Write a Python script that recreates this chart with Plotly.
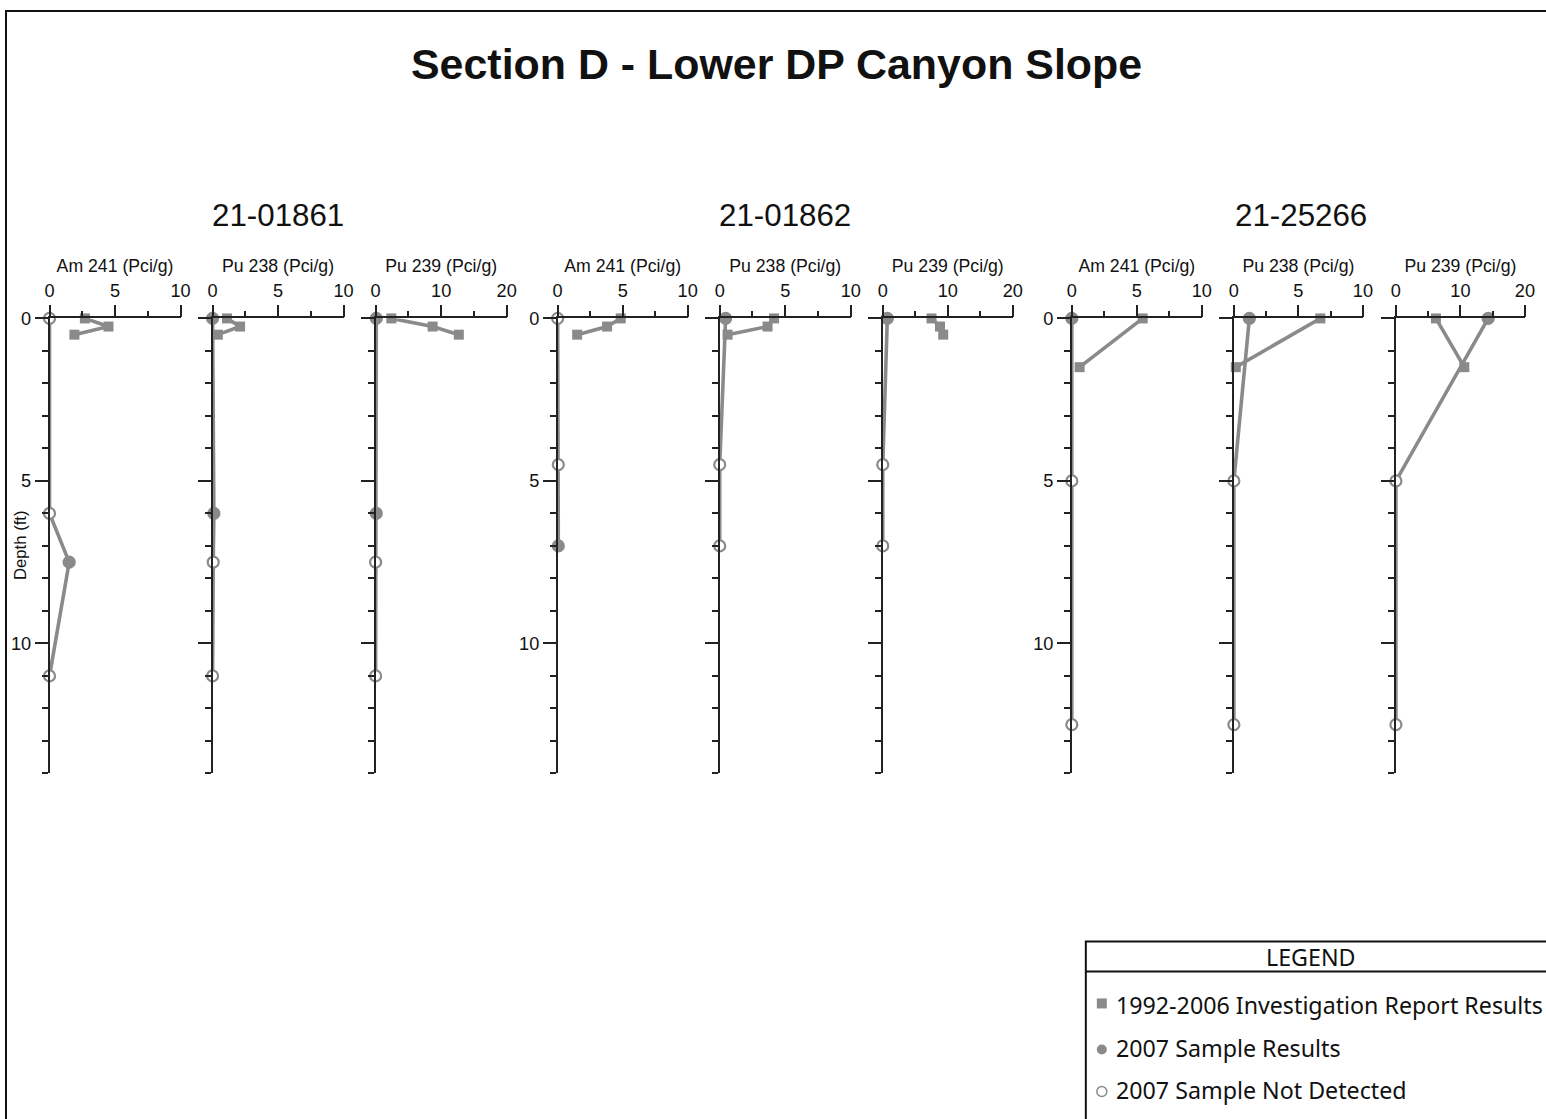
import plotly.graph_objects as go

W, H = 1546, 1119

# ---------------- data ----------------
LOCATIONS = ["21-01861", "21-01862", "21-25266"]
ANALYTES = ["Am 241 (Pci/g)", "Pu 238 (Pci/g)", "Pu 239 (Pci/g)"]
X_MAX = [10, 10, 20]
X_DTICK = [5, 5, 10]
Y_MAX = 14

# 1992-2006 Investigation Report results
ir_depth_01861 = [0.0, 0.25, 0.5]
ir_am241_01861 = [2.7, 4.5, 1.9]
ir_pu238_01861 = [1.1, 2.1, 0.4]
ir_pu239_01861 = [2.4, 8.7, 12.7]

ir_depth_01862 = [0.0, 0.25, 0.5]
ir_am241_01862 = [4.85, 3.8, 1.5]
ir_pu238_01862 = [4.15, 3.65, 0.6]
ir_pu239_01862 = [7.5, 8.8, 9.3]

ir_depth_25266 = [0.0, 1.5]
ir_am241_25266 = [5.45, 0.6]
ir_pu238_25266 = [6.7, 0.15]
ir_pu239_25266 = [6.2, 10.6]

# 2007 sample results (detected flag: True = detected, False = not detected)
s07_depth_01861 = [0.0, 6.0, 7.5, 11.0]
s07_am241_01861 = [0.0, 0.0, 1.5, 0.0]
s07_am241_det_01861 = [False, False, True, False]
s07_pu238_01861 = [0.0, 0.1, 0.05, 0.0]
s07_pu238_det_01861 = [True, True, False, False]
s07_pu239_01861 = [0.1, 0.1, 0.0, 0.0]
s07_pu239_det_01861 = [True, True, False, False]

s07_depth_01862 = [0.0, 4.5, 7.0]
s07_am241_01862 = [0.0, 0.05, 0.05]
s07_am241_det_01862 = [False, False, True]
s07_pu238_01862 = [0.45, 0.0, 0.0]
s07_pu238_det_01862 = [True, False, False]
s07_pu239_01862 = [0.7, 0.0, 0.0]
s07_pu239_det_01862 = [True, False, False]

s07_depth_25266 = [0.0, 5.0, 12.5]
s07_am241_25266 = [0.0, 0.0, 0.0]
s07_am241_det_25266 = [True, False, False]
s07_pu238_25266 = [1.2, 0.0, 0.0]
s07_pu238_det_25266 = [True, False, False]
s07_pu239_25266 = [14.3, 0.0, 0.0]
s07_pu239_det_25266 = [True, False, False]

LEGEND_LABELS = ["1992-2006 Investigation Report Results",
                 "2007 Sample Results",
                 "2007 Sample Not Detected"]

# ---------------- assemble panels ----------------
panels = [
    (ir_depth_01861, ir_am241_01861, s07_depth_01861, s07_am241_01861, s07_am241_det_01861),
    (ir_depth_01861, ir_pu238_01861, s07_depth_01861, s07_pu238_01861, s07_pu238_det_01861),
    (ir_depth_01861, ir_pu239_01861, s07_depth_01861, s07_pu239_01861, s07_pu239_det_01861),
    (ir_depth_01862, ir_am241_01862, s07_depth_01862, s07_am241_01862, s07_am241_det_01862),
    (ir_depth_01862, ir_pu238_01862, s07_depth_01862, s07_pu238_01862, s07_pu238_det_01862),
    (ir_depth_01862, ir_pu239_01862, s07_depth_01862, s07_pu239_01862, s07_pu239_det_01862),
    (ir_depth_25266, ir_am241_25266, s07_depth_25266, s07_am241_25266, s07_am241_det_25266),
    (ir_depth_25266, ir_pu238_25266, s07_depth_25266, s07_pu238_25266, s07_pu238_det_25266),
    (ir_depth_25266, ir_pu239_25266, s07_depth_25266, s07_pu239_25266, s07_pu239_det_25266),
]

# layout geometry (target picture pixels)
PANEL_X = [(49, 180), (212, 343), (375, 506),
           (557, 687), (719, 850), (882, 1012),
           (1071, 1201), (1233, 1362), (1395, 1524)]
PANEL_TOP, PANEL_BOTTOM = 318, 773
GROUP_TITLE_X = [277, 784, 1300]

# observed mapping of page pixels to the photographed picture
SX, OX = 0.99, 4.5
SY, OY = 0.991, 9.6

GRAY = "#8a8a8a"
AXIS = "#222222"
TXT = "#111111"
FONT = "Arial, Liberation Sans, sans-serif"

def px(x):
    return ((x - OX) / SX) / W

def py(y):
    return 1 - ((y - OY) / SY) / H

def fs(s):
    return s / SX

fig = go.Figure()
layout = dict(
    width=W, height=H,
    margin=dict(l=0, r=0, t=0, b=0),
    paper_bgcolor="white", plot_bgcolor="white",
    showlegend=False,
    font=dict(family=FONT, color=TXT),
)

for i, (ird, irv, sd, sv, sdet) in enumerate(panels):
    k = i + 1
    xa = "x" if k == 1 else f"x{k}"
    ya = "y" if k == 1 else f"y{k}"
    a = i % 3
    # 1992-2006 squares
    fig.add_trace(go.Scatter(
        x=irv, y=ird, xaxis=xa, yaxis=ya, mode="lines+markers",
        line=dict(color=GRAY, width=3.6),
        marker=dict(symbol="square", size=10, color=GRAY),
        cliponaxis=False, hoverinfo="x+y"))
    # 2007 samples
    fig.add_trace(go.Scatter(
        x=sv, y=sd, xaxis=xa, yaxis=ya, mode="lines+markers",
        line=dict(color=GRAY, width=3.6),
        marker=dict(symbol="circle", size=11,
                    color=[GRAY if d else "white" for d in sdet],
                    line=dict(color=GRAY, width=2.2)),
        cliponaxis=False, hoverinfo="x+y"))

    x0, x1 = PANEL_X[i]
    layout["xaxis" if k == 1 else f"xaxis{k}"] = dict(
        domain=[px(x0), px(x1)], anchor=ya, side="top",
        range=[0, X_MAX[a]], tick0=0, dtick=X_DTICK[a],
        ticks="outside", ticklen=12, tickwidth=1.5, tickcolor=AXIS,
        minor=dict(dtick=X_DTICK[a] / 2, ticklen=6, tickwidth=1.5,
                   tickcolor=AXIS, ticks="outside"),
        showline=True, linecolor=AXIS, linewidth=1.5,
        showgrid=False, zeroline=False,
        tickfont=dict(size=fs(18), family=FONT, color=TXT),
        title=dict(text=ANALYTES[a], standoff=4,
                   font=dict(size=fs(17.5), family=FONT, color=TXT)),
        fixedrange=True,
    )
    layout["yaxis" if k == 1 else f"yaxis{k}"] = dict(
        domain=[py(PANEL_BOTTOM), py(PANEL_TOP)], anchor=xa,
        range=[Y_MAX, 0], tick0=0, dtick=5,
        ticks="outside", ticklen=13, tickwidth=1.5, tickcolor=AXIS,
        minor=dict(dtick=1, ticklen=6, tickwidth=1.5, tickcolor=AXIS,
                   ticks="outside"),
        showline=True, linecolor=AXIS, linewidth=1.5,
        showgrid=False, zeroline=False,
        showticklabels=(a == 0),
        tickfont=dict(size=fs(18), family=FONT, color=TXT),
        fixedrange=True,
    )

annotations = [
    dict(text="<b>Section D - Lower DP Canyon Slope</b>", x=px(776), y=py(64),
         xref="paper", yref="paper", showarrow=False, xanchor="center",
         yanchor="middle", font=dict(size=fs(42.5), family=FONT, color=TXT)),
    dict(text="Depth (ft)", x=px(20), y=py(545), xref="paper", yref="paper",
         showarrow=False, textangle=-90, xanchor="center", yanchor="middle",
         font=dict(size=fs(16.5), family=FONT, color=TXT)),
]
for gx, loc in zip(GROUP_TITLE_X, LOCATIONS):
    annotations.append(dict(text=loc, x=px(gx), y=py(215), xref="paper",
                            yref="paper", showarrow=False, xanchor="center",
                            yanchor="middle",
                            font=dict(size=fs(31), family=FONT, color=TXT)))

# legend box
LEG_FONT = "Noto Sans, Open Sans, sans-serif"
annotations.append(dict(text="LEGEND", x=px(1310), y=py(957), xref="paper",
                        yref="paper", showarrow=False, xanchor="center",
                        yanchor="middle",
                        font=dict(size=fs(23), family=LEG_FONT, color=TXT)))
leg_y = [1005, 1048, 1090]
for lbl, ly in zip(LEGEND_LABELS, leg_y):
    annotations.append(dict(text=lbl, x=px(1113), y=py(ly), xref="paper",
                            yref="paper", showarrow=False, xanchor="left",
                            yanchor="middle",
                            font=dict(size=fs(23), family=LEG_FONT, color=TXT)))

shapes = [
    # outer frame (drawn at the very edge of the page)
    dict(type="rect", xref="paper", yref="paper", x0=1 / W, x1=1.02,
         y0=-0.02, y1=1 - 1 / H, line=dict(color=TXT, width=2)),
    # legend frame
    dict(type="rect", xref="paper", yref="paper", x0=px(1085), x1=1.02,
         y0=-0.02, y1=py(941), line=dict(color=TXT, width=2)),
    dict(type="line", xref="paper", yref="paper", x0=px(1085), x1=1.02,
         y0=py(971), y1=py(971), line=dict(color=TXT, width=2)),
    # legend symbols
    dict(type="rect", xref="paper", yref="paper", x0=px(1096), x1=px(1106),
         y0=py(1008), y1=py(998), fillcolor=GRAY, line=dict(width=0)),
    dict(type="circle", xref="paper", yref="paper", x0=px(1096), x1=px(1106),
         y0=py(1054), y1=py(1044), fillcolor=GRAY, line=dict(width=0)),
    dict(type="circle", xref="paper", yref="paper", x0=px(1096), x1=px(1106),
         y0=py(1096), y1=py(1086), fillcolor="white",
         line=dict(color=GRAY, width=1.5)),
]

layout["annotations"] = annotations
layout["shapes"] = shapes
fig.update_layout(**layout)

fig.write_html(
    "out.html",
    config={"displayModeBar": False},
    post_script="document.body.style.margin='0px';document.body.style.overflow='hidden';",
)
